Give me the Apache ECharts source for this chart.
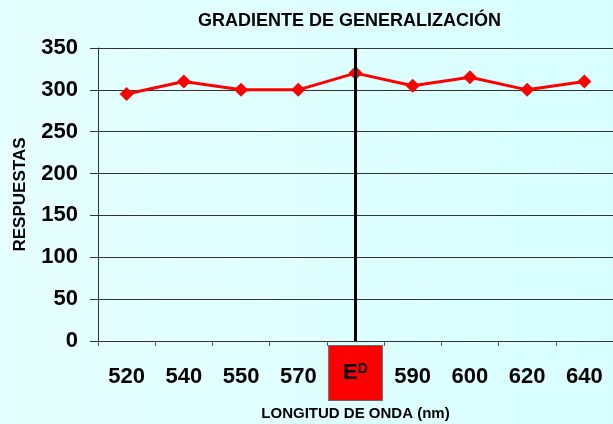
<!DOCTYPE html>
<html>
<head>
<meta charset="utf-8">
<script src="https://cdn.jsdelivr.net/npm/echarts@6/dist/echarts.min.js"></script>
<style>
  html, body { margin: 0; padding: 0; }
  #chart { width: 613px; height: 424px; }
</style>
</head>
<body>
<div id="chart"></div>
<script>
// longitudes de onda (ED = estímulo discriminativo)
const categories = ['520', '540', '550', '570', 'ED', '590', '600', '620', '640'];
const respuestas = [295, 310, 300, 300, 320, 305, 315, 300, 310];
const yTicks = { min: 0, max: 350, interval: 50 };

const chart = echarts.init(document.getElementById('chart'));

const option = {
  backgroundColor: {
    type: 'linear', x: 0, y: 0, x2: 1, y2: 0,
    colorStops: [{ offset: 0, color: '#e6ffff' }, { offset: 1, color: '#d8ffff' }]
  },
  animation: false,
  title: {
    text: 'GRADIENTE DE GENERALIZACIÓN',
    left: 193,
    top: 7,
    textStyle: { fontFamily: 'Liberation Sans, Arial', fontSize: 18, fontWeight: 'bold', color: '#000' }
  },
  grid: { left: 98, right: 0, top: 48, bottom: 83, outerBoundsMode: 'none', containLabel: false },
  xAxis: {
    type: 'category',
    data: categories.map(c => c === 'ED'
      ? { value: c, textStyle: { backgroundColor: '#ff0000', borderColor: '#666', borderWidth: 1, padding: [16, 14, 16, 14] } }
      : c),
    boundaryGap: true,
    axisLine: { lineStyle: { color: '#333', width: 1 } },
    axisTick: { show: true, interval: 0, length: 5, lineStyle: { color: '#555' } },
    axisLabel: {
      interval: 0,
      hideOverlap: false,
      margin: 5,
      padding: [20, 0, 0, 0],
      fontFamily: 'Liberation Sans, Arial',
      fontSize: 22,
      fontWeight: 'bold',
      color: '#000',
      formatter: v => v === 'ED' ? '{e|E}{d|D}' : v,
      rich: {
        e: { fontFamily: 'Liberation Sans, Arial', fontSize: 22, fontWeight: 'bold', color: '#000', lineHeight: 22 },
        d: { fontFamily: 'Liberation Sans, Arial', fontSize: 14, fontWeight: 'bold', color: '#000', verticalAlign: 'top', lineHeight: 22 }
      }
    },
    name: 'LONGITUD DE ONDA (nm)',
    nameLocation: 'middle',
    nameGap: 63,
    nameTextStyle: { fontFamily: 'Liberation Sans, Arial', fontSize: 15, fontWeight: 'bold', color: '#000' }
  },
  yAxis: {
    type: 'value',
    min: yTicks.min,
    max: yTicks.max,
    interval: yTicks.interval,
    axisLine: { show: true, lineStyle: { color: '#333', width: 1 } },
    axisTick: { show: true, length: 8, lineStyle: { color: '#333' } },
    splitLine: { show: true, lineStyle: { color: '#333', width: 1 } },
    axisLabel: {
      margin: 20,
      fontFamily: 'Liberation Sans, Arial',
      fontSize: 22,
      fontWeight: 'bold',
      color: '#000'
    },
    name: 'RESPUESTAS',
    nameLocation: 'middle',
    nameGap: 69,
    nameTextStyle: { fontFamily: 'Liberation Sans, Arial', fontSize: 17, fontWeight: 'bold', color: '#000' }
  },
  series: [{
    type: 'line',
    data: respuestas,
    symbol: 'diamond',
    symbolSize: 14,
    itemStyle: { color: '#ff0000' },
    lineStyle: { color: '#ff0000', width: 3 },
    markLine: {
      silent: true,
      symbol: 'none',
      label: { show: false },
      lineStyle: { color: '#000', width: 3, type: 'solid' },
      data: [{ xAxis: 'ED' }]
    }
  }]
};

chart.setOption(option);
</script>
</body>
</html>
